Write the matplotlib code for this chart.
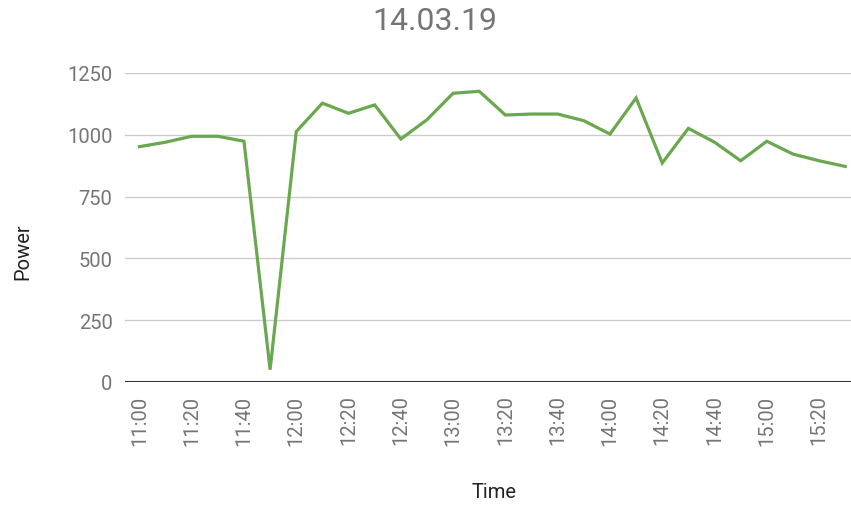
import matplotlib
matplotlib.use("Agg")
import matplotlib.pyplot as plt

plt.rcParams['font.family'] = ['Roboto', 'DejaVu Sans']

# Messwerte alle 10 Minuten
times = ["11:00", "11:10", "11:20", "11:30", "11:40", "11:50",
         "12:00", "12:10", "12:20", "12:30", "12:40", "12:50",
         "13:00", "13:10", "13:20", "13:30", "13:40", "13:50",
         "14:00", "14:10", "14:20", "14:30", "14:40", "14:50",
         "15:00", "15:10", "15:20", "15:30"]
power = [952, 970, 994, 994, 974, 50,
         1013, 1128, 1087, 1121, 983, 1061,
         1168, 1176, 1080, 1084, 1084, 1057,
         1003, 1149, 886, 1026, 970, 895,
         974, 922, 895, 872]
tick_labels = ["11:00", "11:20", "11:40", "12:00", "12:20", "12:40", "13:00",
               "13:20", "13:40", "14:00", "14:20", "14:40", "15:00", "15:20"]
y_ticks = [0, 250, 500, 750, 1000, 1250]


def to_min(t):
    h, m = t.split(":")
    return (int(h) - 11) * 60 + int(m)


x = [to_min(t) for t in times]
xt = [to_min(t) for t in tick_labels]

fig = plt.figure(figsize=(8.51, 5.06), dpi=100)
ax = fig.add_axes([125 / 851, 123 / 506, 726 / 851, 309 / 506])

ax.plot(x, power, color='#6aa84f', linewidth=2.3, solid_joinstyle='miter')

ax.set_xlim(-5.5, 272.2)
ax.set_ylim(0, 1250)
ax.set_yticks(y_ticks)
ax.set_xticks(xt)
ax.set_xticklabels(tick_labels, rotation=90)
ax.grid(axis='y', color='#cccccc', linewidth=1)
ax.set_axisbelow(True)
ax.axhline(0, color='#333333', linewidth=1.5, zorder=3)

for s in ax.spines.values():
    s.set_visible(False)
ax.tick_params(axis='both', length=0, labelsize=14.5, labelcolor='#757575')
ax.tick_params(axis='y', pad=9)
ax.tick_params(axis='x', pad=9)

# Achsentitel
fig.text(23 / 851, 1 - 252 / 506, "Power", fontsize=14.5, color='#222222',
         rotation=90, ha='center', va='center')
fig.text(494 / 851, 1 - 493 / 506, "Time", fontsize=14.5, color='#222222',
         ha='center', va='center')
fig.text(435 / 851, 1 - 21 / 506, "14.03.19", fontsize=23, color='#757575',
         ha='center', va='center')

fig.savefig("out.png", dpi=100)
